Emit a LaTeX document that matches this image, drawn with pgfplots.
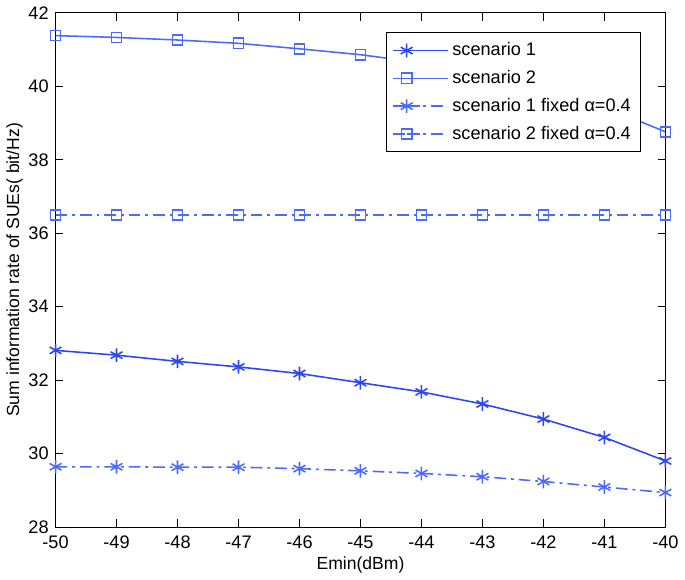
\documentclass[border=0pt]{standalone}
\usepackage{pgfplots}
\pgfplotsset{compat=1.18}
\usepackage{fontspec}
\setmainfont{Liberation Sans}
\definecolor{sOne}{RGB}{45,70,245}
\definecolor{sTwo}{RGB}{75,105,250}
\begin{document}
\begin{tikzpicture}
\begin{axis}[
 width=312.5pt,height=263.5pt,scale only axis,
 xmin=-50,xmax=-40,ymin=28,ymax=42,
 xtick={-50,-49,...,-40},ytick={28,30,...,42},
 tick align=inside,major tick length=4pt,
 tick style={black,thin},
 axis line style={black,thin},
 /pgf/number format/assume math mode=true,
 ticklabel style={font=\fontsize{9.3}{11}\selectfont},
 xticklabel style={yshift=-1pt},
 xlabel={Emin(dBm)},
 ylabel={Sum information rate of SUEs( bit/Hz)},
 label style={font=\fontsize{9}{11}\selectfont},
 xlabel style={yshift=3pt},
 ylabel style={yshift=-4pt},
 legend style={at={(0.96,0.962)},anchor=north east,draw=black,
  font=\fontsize{9.3}{11}\selectfont,row sep=2pt,inner sep=3pt},
 legend cell align=left,
 legend image code/.code={\draw[#1] (0pt,0pt) -- (14pt,0pt) plot coordinates {(7pt,0pt)} -- (28pt,0pt);},
]
\addplot[sOne,thick,mark=asterisk,mark size=3.5pt,mark options={solid,thick}] coordinates
 {(-50,32.81) (-49,32.68) (-48,32.51) (-47,32.36) (-46,32.18) (-45,31.93) (-44,31.68) (-43,31.35) (-42,30.94) (-41,30.44) (-40,29.80)};
\addlegendentry{scenario 1}
\addplot[sTwo,thick,mark=square,mark size=2.6pt,mark options={solid,thick}] coordinates
 {(-50,41.38) (-49,41.33) (-48,41.26) (-47,41.17) (-46,41.02) (-45,40.86) (-44,40.64) (-43,40.34) (-42,39.94) (-41,39.44) (-40,38.76)};
\addlegendentry{scenario 2}
\addplot[sTwo,thick,dash pattern=on 6pt off 2.5pt on 1.5pt off 2.5pt,mark=asterisk,mark size=3.5pt,mark options={solid,thick}] coordinates
 {(-50,29.64) (-49,29.64) (-48,29.63) (-47,29.63) (-46,29.59) (-45,29.53) (-44,29.46) (-43,29.37) (-42,29.24) (-41,29.09) (-40,28.94)};
\addlegendentry{scenario 1 fixed α=0.4}
\addplot[sTwo,thick,dash pattern=on 6pt off 2.5pt on 1.5pt off 2.5pt,mark=square,mark size=2.6pt,mark options={solid,thick}] coordinates
 {(-50,36.5) (-49,36.5) (-48,36.5) (-47,36.5) (-46,36.5) (-45,36.5) (-44,36.5) (-43,36.5) (-42,36.5) (-41,36.5) (-40,36.5)};
\addlegendentry{scenario 2 fixed α=0.4}
\end{axis}
\end{tikzpicture}
\end{document}
